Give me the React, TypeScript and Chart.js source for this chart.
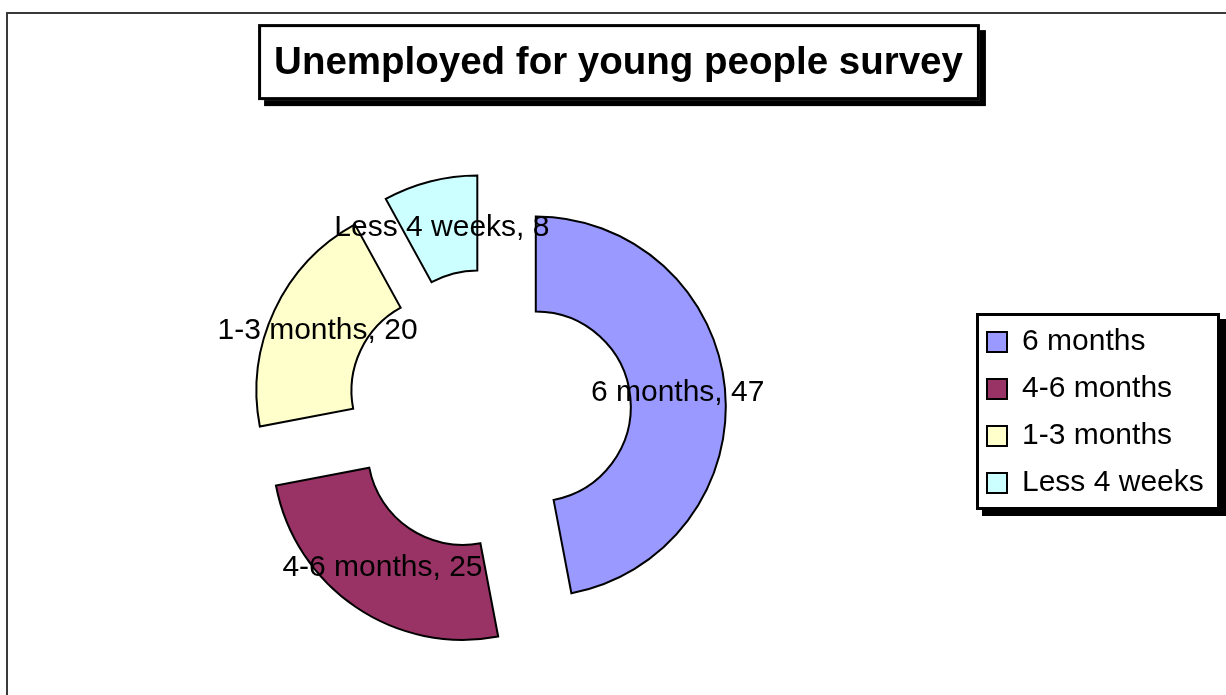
import React, { useEffect, useRef } from 'react';
import { Chart, registerables } from 'chart.js';

Chart.register(...registerables);

// ---- data ----
const categories = ['6 months', '4-6 months', '1-3 months', 'Less 4 weeks'];
const values = [47, 25, 20, 8];
const sliceColors = ['#9999FF', '#993366', '#FFFFCC', '#CCFFFF'];
const titleText = 'Unemployed for young people survey';

const FONT = '"Liberation Sans", Arial, Helvetica, sans-serif';
const EXPLODE = 47;
const TITLE_SIZE = 38.5;

function drawShadowBox(ctx: CanvasRenderingContext2D, l: number, t: number, r: number, b: number, s: number, bw: number) {
  ctx.fillStyle = '#000';
  ctx.fillRect(l + s, t + s, r - l, b - t);
  ctx.fillStyle = '#fff';
  ctx.fillRect(l, t, r - l, b - t);
  ctx.strokeStyle = '#000';
  ctx.lineWidth = bw;
  ctx.strokeRect(l + bw / 2, t + bw / 2, r - l - bw, b - t - bw);
}

export default function App() {
  const ref = useRef<HTMLCanvasElement>(null);

  useEffect(() => {
    const canvas = ref.current;
    if (!canvas) return;

    const explodePlugin = {
      id: 'explodeSlices',
      afterDatasetUpdate(chart: any, args: any) {
        const meta = chart.getDatasetMeta(args.index);
        meta.data.forEach((arc: any) => {
          const mid = (arc.startAngle + arc.endAngle) / 2;
          arc.x += Math.cos(mid) * EXPLODE;
          arc.y += Math.sin(mid) * EXPLODE;
        });
      },
    };

    const layoutPlugin = {
      id: 'layoutFix',
      afterLayout(chart: any) {
        const cx = 489, cy = 411, half = 200;
        chart.chartArea = {
          left: cx - half, top: cy - half, right: cx + half, bottom: cy + half,
          width: half * 2, height: half * 2,
        };
        const lg = chart.legend;
        if (lg) {
          lg.left = 970;
          lg.right = 1220;
          lg.top = 308;
          lg.bottom = 517;
          lg.width = lg.right - lg.left;
          lg.height = lg.bottom - lg.top;
        }
      },
    };

    const decorPlugin = {
      id: 'decor',
      beforeDraw(chart: any) {
        const ctx = chart.ctx as CanvasRenderingContext2D;
        ctx.save();
        // outer chart frame (right/bottom edges lie outside the view)
        ctx.strokeStyle = '#3a3a3a';
        ctx.lineWidth = 2;
        ctx.beginPath();
        ctx.moveTo(7, chart.height + 10);
        ctx.lineTo(7, 13);
        ctx.lineTo(chart.width + 10, 13);
        ctx.stroke();
        // title box with shadow
        const tb = chart.titleBlock;
        if (tb) {
          ctx.font = `bold ${TITLE_SIZE}px ${FONT}`;
          const w = ctx.measureText(titleText).width;
          const tcx = (tb.left + tb.right) / 2;
          const tcy = tb.top + (TITLE_SIZE * 1.2) / 2;
          drawShadowBox(ctx, tcx - w / 2 - 16, tcy - 39, tcx + w / 2 + 17, tcy + 37, 6, 3);
        }
        // legend box with shadow
        drawShadowBox(ctx, 976, 313, 1220, 510, 6, 3);
        ctx.restore();
      },
    };

    const labelPlugin = {
      id: 'sliceLabels',
      afterDatasetsDraw(chart: any) {
        const ctx = chart.ctx as CanvasRenderingContext2D;
        const meta = chart.getDatasetMeta(0);
        ctx.save();
        ctx.font = `30px ${FONT}`;
        ctx.fillStyle = '#000';
        ctx.textAlign = 'center';
        ctx.textBaseline = 'middle';
        meta.data.forEach((arc: any, i: number) => {
          const p = arc.getCenterPoint();
          ctx.fillText(`${categories[i]}, ${values[i]}`, p.x, p.y);
        });
        ctx.restore();
      },
    };

    const chart = new Chart(canvas, {
      type: 'doughnut',
      data: {
        labels: categories,
        datasets: [
          {
            data: values,
            backgroundColor: sliceColors,
            borderColor: '#000',
            borderWidth: 2,
            borderJoinStyle: 'miter',
            radius: 190,
            cutout: '50%',
            clip: false,
          } as any,
        ],
      },
      options: {
        responsive: false,
        animation: false,
        devicePixelRatio: 1,
        events: [],
        layout: { padding: { left: 11, right: 0, top: 40, bottom: 0 } },
        plugins: {
          title: {
            display: true,
            text: titleText,
            color: '#000',
            font: { family: FONT, size: TITLE_SIZE, weight: 'bold', lineHeight: 1.2 },
            padding: { top: 0, bottom: 0 },
          },
          legend: {
            display: true,
            position: 'right',
            labels: {
              color: '#000',
              font: { family: FONT, size: 30 },
              boxWidth: 20,
              boxHeight: 20,
              padding: 17,
            },
          },
          tooltip: { enabled: false },
        },
      } as any,
      plugins: [explodePlugin, layoutPlugin, decorPlugin, labelPlugin],
    });

    return () => chart.destroy();
  }, []);

  return (
    <div style={{ position: 'fixed', left: 0, top: 0, width: 1226, height: 695, background: '#fff', overflow: 'hidden' }}>
      <canvas ref={ref} width={1226} height={695} style={{ display: 'block', width: 1226, height: 695 }} />
    </div>
  );
}
